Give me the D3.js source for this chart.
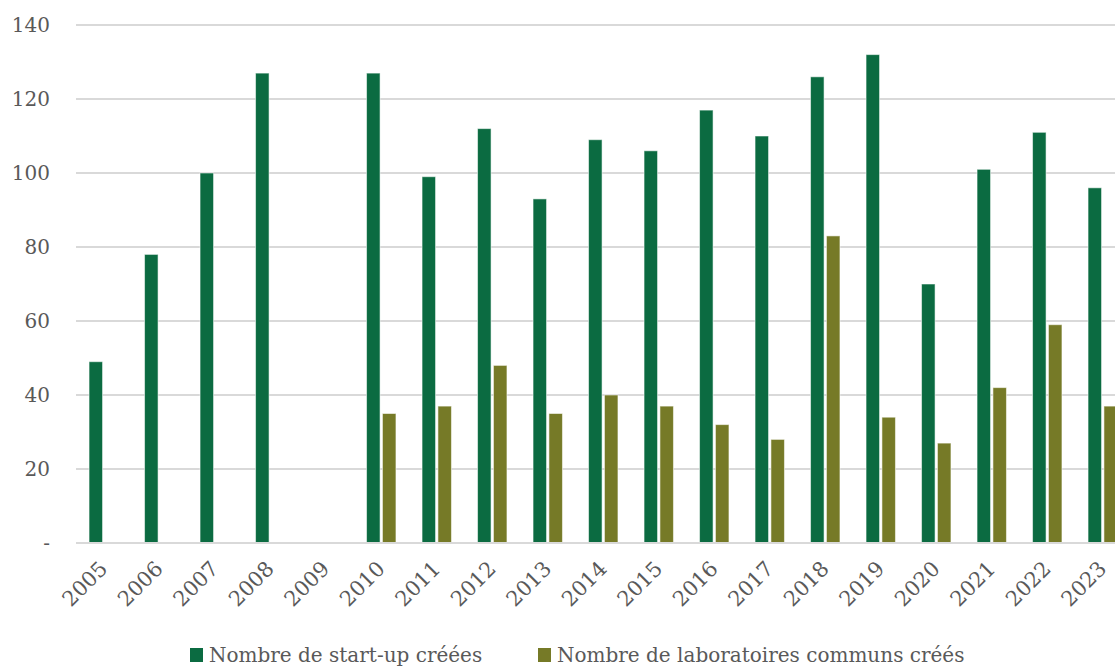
<!DOCTYPE html>
<html>
<head>
<meta charset="utf-8">
<script src="https://cdn.jsdelivr.net/npm/d3@7"></script>
<style>
  html, body { margin: 0; padding: 0; background: #fff; }
  svg { display: block; }
  text { font-family: "DejaVu Serif", serif; fill: #595959; }
</style>
</head>
<body>
<svg id="chart" width="1115" height="666"></svg>
<script>
const years = ["2005","2006","2007","2008","2009","2010","2011","2012","2013","2014","2015","2016","2017","2018","2019","2020","2021","2022","2023"];
const startups = [49, 78, 100, 127, null, 127, 99, 112, 93, 109, 106, 117, 110, 126, 132, 70, 101, 111, 96];
const labos = [null, null, null, null, null, 35, 37, 48, 35, 40, 37, 32, 28, 83, 34, 27, 42, 59, 37];
const seriesNames = ["Nombre de start-up créées", "Nombre de laboratoires communs créés"];
const seriesColors = ["#0b6b41", "#767a27"];
const yTicks = [0, 20, 40, 60, 80, 100, 120, 140];

const svg = d3.select("#chart");
const plotLeft = 76, plotTop = 25, plotBottom = 543;
const step = 55.5;
const plotRight = plotLeft + years.length * step;

const x = d3.scaleBand().domain(years).range([plotLeft, plotRight]).paddingInner(0.47).paddingOuter(0.235);
const xs = d3.scaleBand().domain([0, 1]).range([0, x.bandwidth()]).paddingInner(0.15);
const y = d3.scaleLinear().domain([0, 140]).range([plotBottom, plotTop]);

// gridlines
svg.append("g").selectAll("line").data(yTicks.filter(d => d > 0)).join("line")
  .attr("x1", plotLeft).attr("x2", 1115)
  .attr("y1", d => y(d)).attr("y2", d => y(d))
  .attr("stroke", "#d9d9d9").attr("stroke-width", 2);

// y axis labels
const yAxis = d3.axisLeft(y).tickValues(yTicks).tickSize(0).tickPadding(0)
  .tickFormat(d => d === 0 ? "-" : d);
const yg = svg.append("g").attr("transform", `translate(50,0)`).call(yAxis);
yg.select(".domain").remove();
yg.selectAll("text").attr("font-size", 20).attr("font-family", "DejaVu Serif").attr("fill", "#555555");

// bars
const data = [startups, labos];
data.forEach((vals, si) => {
  svg.append("g").selectAll("rect")
    .data(years.map((yr, i) => ({ yr, v: vals[i] })).filter(d => d.v != null))
    .join("rect")
    .attr("x", d => x(d.yr) + xs(si))
    .attr("width", xs.bandwidth())
    .attr("y", d => y(d.v))
    .attr("height", d => y(0) - y(d.v))
    .attr("fill", seriesColors[si])
    .attr("stroke", "rgba(255,255,255,0.55)")
    .attr("stroke-width", 1);
});

// x axis line
svg.append("line").attr("x1", plotLeft).attr("x2", 1115)
  .attr("y1", y(0)).attr("y2", y(0))
  .attr("stroke", "#d9d9d9").attr("stroke-width", 2);

// x axis labels
const xAxis = d3.axisBottom(x).tickSize(0).tickPadding(0);
const xg = svg.append("g").call(xAxis);
xg.select(".domain").remove();
xg.selectAll(".tick").attr("transform", d => `translate(${x(d) + x.bandwidth() / 2 + 5},570)`);
xg.selectAll("text")
  .attr("font-size", 21).attr("font-family", "DejaVu Serif").attr("fill", "#555555")
  .attr("text-anchor", "end").attr("dy", 0).attr("y", 0)
  .attr("transform", "rotate(-45)");

// legend
const legendItems = [
  { name: seriesNames[0], color: seriesColors[0], sx: 190, tx: 209 },
  { name: seriesNames[1], color: seriesColors[1], sx: 538, tx: 557 }
];
const lg = svg.append("g");
legendItems.forEach(it => {
  lg.append("rect").attr("x", it.sx).attr("y", 648).attr("width", 13).attr("height", 14).attr("fill", it.color);
  lg.append("text").attr("x", it.tx).attr("y", 662).attr("font-size", 20).attr("fill", "#555555").text(it.name);
});
</script>
</body>
</html>
